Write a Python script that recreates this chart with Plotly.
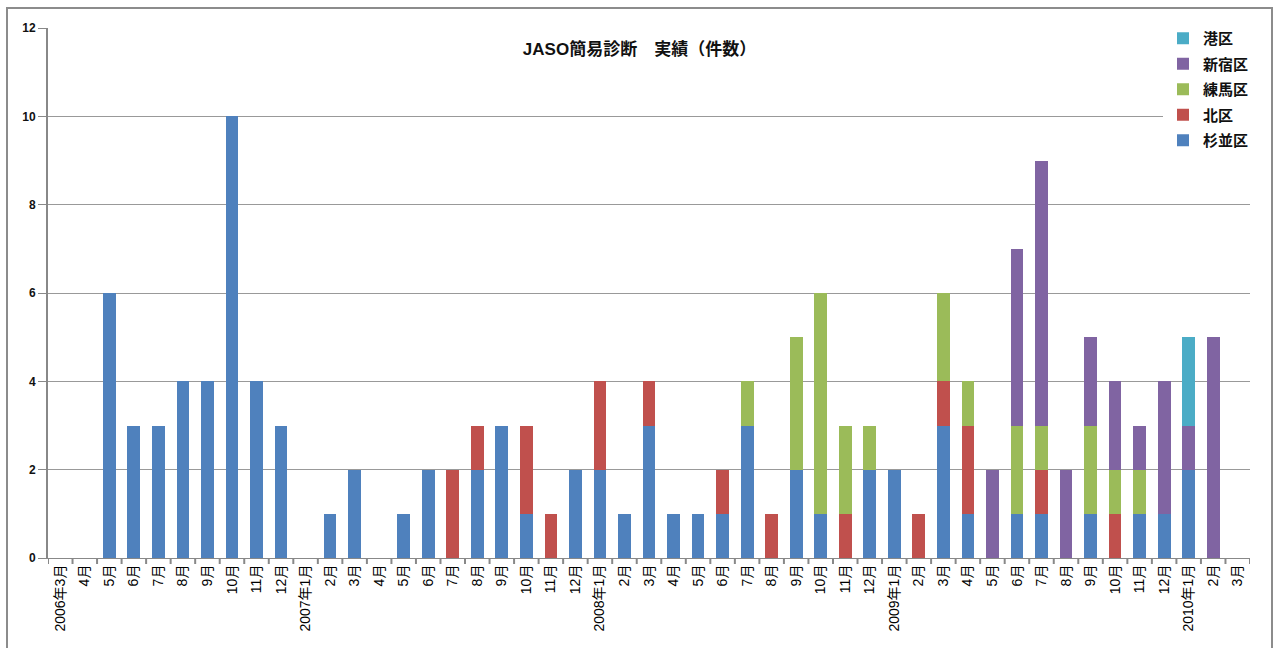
import plotly.graph_objects as go

months = ["2006年3月", "4月", "5月", "6月", "7月", "8月", "9月", "10月", "11月", "12月",
          "2007年1月", "2月", "3月", "4月", "5月", "6月", "7月", "8月", "9月", "10月", "11月", "12月",
          "2008年1月", "2月", "3月", "4月", "5月", "6月", "7月", "8月", "9月", "10月", "11月", "12月",
          "2009年1月", "2月", "3月", "4月", "5月", "6月", "7月", "8月", "9月", "10月", "11月", "12月",
          "2010年1月", "2月", "3月"]

suginami = [0, 0, 6, 3, 3, 4, 4, 10, 4, 3,
            0, 1, 2, 0, 1, 2, 0, 2, 3, 1, 0, 2,
            2, 1, 3, 1, 1, 1, 3, 0, 2, 1, 0, 2,
            2, 0, 3, 1, 0, 1, 1, 0, 1, 0, 1, 1,
            2, 0, 0]
kita = [0, 0, 0, 0, 0, 0, 0, 0, 0, 0,
        0, 0, 0, 0, 0, 0, 2, 1, 0, 2, 1, 0,
        2, 0, 1, 0, 0, 1, 0, 1, 0, 0, 1, 0,
        0, 1, 1, 2, 0, 0, 1, 0, 0, 1, 0, 0,
        0, 0, 0]
nerima = [0, 0, 0, 0, 0, 0, 0, 0, 0, 0,
          0, 0, 0, 0, 0, 0, 0, 0, 0, 0, 0, 0,
          0, 0, 0, 0, 0, 0, 1, 0, 3, 5, 2, 1,
          0, 0, 2, 1, 0, 2, 1, 0, 2, 1, 1, 0,
          0, 0, 0]
shinjuku = [0, 0, 0, 0, 0, 0, 0, 0, 0, 0,
            0, 0, 0, 0, 0, 0, 0, 0, 0, 0, 0, 0,
            0, 0, 0, 0, 0, 0, 0, 0, 0, 0, 0, 0,
            0, 0, 0, 0, 2, 4, 6, 2, 2, 2, 1, 3,
            1, 5, 0]
minato = [0, 0, 0, 0, 0, 0, 0, 0, 0, 0,
          0, 0, 0, 0, 0, 0, 0, 0, 0, 0, 0, 0,
          0, 0, 0, 0, 0, 0, 0, 0, 0, 0, 0, 0,
          0, 0, 0, 0, 0, 0, 0, 0, 0, 0, 0, 0,
          2, 0, 0]

series = [("杉並区", suginami, "#4F81BD"),
          ("北区", kita, "#C0504D"),
          ("練馬区", nerima, "#9BBB59"),
          ("新宿区", shinjuku, "#8064A2"),
          ("港区", minato, "#4BACC6")]

xidx = list(range(len(months)))

fig = go.Figure()
n = len(series)
for k, (name, vals, col) in enumerate(series):
    fig.add_trace(go.Bar(name="<b>%s</b>" % name, x=xidx, y=vals, legendgroup=name,
                         legendrank=n - k,
                         marker=dict(color=col, line=dict(width=0))))

W, H = 1279, 648
L, R, T, B = 48, 29, 28, 90
pw, ph = W - L - R, H - T - B

def px(x):
    return (x - L) / pw

def py(y):
    return (H - B - y) / ph

FONT = "Liberation Sans, Noto Sans CJK JP, sans-serif"

fig.update_layout(
    width=W, height=H,
    margin=dict(l=L, r=R, t=T, b=B),
    barmode="stack", bargap=0.48,
    plot_bgcolor="white", paper_bgcolor="white",
    font=dict(family=FONT, color="#000000", size=12),
    title=dict(text="<b>JASO簡易診断　実績（件数）</b>", x=0.5, xanchor="center",
               y=(H - 49) / H, yanchor="middle",
               font=dict(size=17, color="#111111")),
    showlegend=True,
    legend=dict(traceorder="grouped", x=px(1163), y=py(22), xanchor="left", yanchor="top",
                bgcolor="white", font=dict(size=15, color="#111111"), itemwidth=30, tracegroupgap=3),
    xaxis=dict(type="linear", range=[-0.5, len(months) - 0.5],
               tickmode="array", tickvals=xidx, ticktext=months, tickangle=-90,
               showgrid=False, zeroline=False, showline=True, linecolor="#888888", linewidth=1,
               ticks="", tickfont=dict(size=14)),
    yaxis=dict(range=[0, 12], tickmode="array", tickvals=[0, 2, 4, 6, 8, 10, 12],
               ticktext=["<b>%d</b>" % v for v in [0, 2, 4, 6, 8, 10, 12]],
               showgrid=True, gridcolor="#999999", gridwidth=1, zeroline=False,
               showline=True, linecolor="#888888", linewidth=2, ticks="outside", ticklen=8,
               tickcolor="#888888", tickfont=dict(size=12, color="#111111")),
)

# tick marks at category boundaries
for i in range(len(months) + 1):
    fig.add_shape(type="line", xref="x", yref="paper", x0=i - 0.5, x1=i - 0.5,
                  y0=0, y1=-6 / ph, line=dict(color="#888888", width=2))

# outer chart frame
fig.add_shape(type="rect", xref="paper", yref="paper",
              x0=px(7), x1=px(1272), y0=py(660), y1=py(8),
              line=dict(color="#8c8c8c", width=2), layer="below")

fig.write_html("out.html")
